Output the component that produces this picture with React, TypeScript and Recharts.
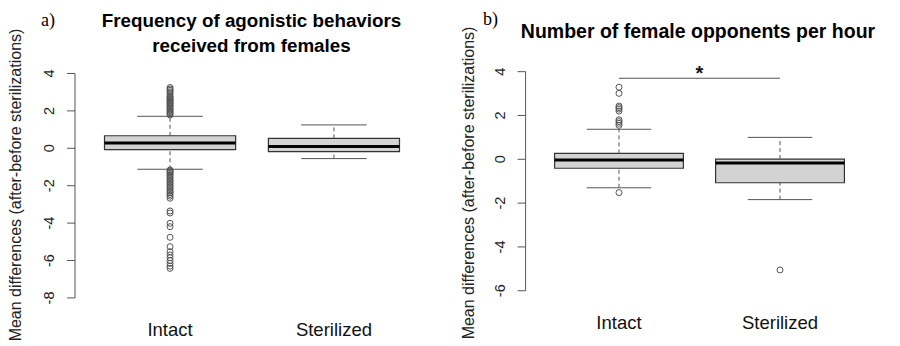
import {
  ComposedChart,
  XAxis,
  YAxis,
  Scatter,
  ReferenceArea,
  ReferenceLine,
} from 'recharts'

const categories = ['Intact', 'Sterilized']

// panel a) frequency of agonistic behaviors received from females
const aLow = [-1.12, -0.55]
const aQ1 = [-0.07, -0.18]
const aMedian = [0.28, 0.09]
const aQ3 = [0.67, 0.53]
const aHigh = [1.71, 1.25]
const aIntactOutliers = [
  3.25, 3.17, 3.1, 3.02, 2.93, 2.8, 2.74, 2.68, 2.62, 2.57, 2.52, 2.46, 2.41,
  2.35, 2.28, 2.22, 2.15, 2.09, 2.02, 1.96, 1.9, 1.84, 1.78,
  -1.16, -1.21, -1.27, -1.33, -1.4, -1.47, -1.55, -1.63, -1.72, -1.8, -1.88,
  -1.97, -2.05, -2.13, -2.22, -2.3, -2.38, -2.47, -2.56, -2.67,
  -3.35, -3.46, -4.01, -4.19, -4.76, -5.26, -5.53, -5.7, -5.85, -6.0, -6.15,
  -6.3, -6.42,
]
const aSterilizedOutliers: number[] = []
const aTicks = [-8, -6, -4, -2, 0, 2, 4]

// panel b) number of female opponents per hour
const bLow = [-1.3, -1.84]
const bQ1 = [-0.41, -1.07]
const bMedian = [-0.03, -0.17]
const bQ3 = [0.27, 0.01]
const bHigh = [1.37, 1.0]
const bIntactOutliers = [3.29, 3.01, 2.43, 2.36, 2.29, 2.2, 1.8, 1.72, 1.64, 1.55, -1.52]
const bSterilizedOutliers = [-5.05]
const bTicks = [-6, -4, -2, 0, 2, 4]
const bSignif = 3.7

const FONT = '"Liberation Sans", Arial, sans-serif'
const SERIF = '"Liberation Serif", "Times New Roman", serif'
const LINE = '#333'

function YTick({ x, y, payload }: any) {
  return (
    <text
      transform={`translate(${x - 16}, ${y}) rotate(-90)`}
      textAnchor="middle"
      dominantBaseline="central"
      fontFamily={FONT}
      fontSize={14.5}
      fill="#222"
    >
      {payload.value}
    </text>
  )
}

function XTick({ x, y, payload }: any) {
  return (
    <text x={x} y={y} dy={21} textAnchor="middle" fontFamily={FONT} fontSize={18.5} fill="#111">
      {categories[payload.value - 1]}
    </text>
  )
}

function Outlier({ cx, cy }: any) {
  return <circle cx={cx} cy={cy} r={3} fill="none" stroke="#555" strokeWidth={1} />
}

interface PanelProps {
  low: number[]
  q1: number[]
  median: number[]
  q3: number[]
  high: number[]
  outliers: number[][]
  ticks: number[]
  domain: [number, number]
  margin: { top: number; right: number; bottom: number; left: number }
  signif?: number
}

function BoxPanel({ low, q1, median, q3, high, outliers, ticks, domain, margin, signif }: PanelProps) {
  const points = outliers.flatMap((vals, i) => vals.map((v) => ({ x: i + 1, y: v })))
  return (
    <ComposedChart width={450} height={346} margin={margin}>
      <XAxis
        type="number"
        dataKey="x"
        domain={[0.42, 2.58]}
        ticks={[1, 2]}
        allowDataOverflow
        axisLine={false}
        tickLine={false}
        height={30}
        tick={<XTick />}
      />
      <YAxis
        type="number"
        dataKey="y"
        domain={domain}
        ticks={ticks}
        allowDataOverflow
        axisLine={false}
        tickLine={{ stroke: '#555' }}
        tickSize={8}
        width={30}
        tick={<YTick />}
      />
      <ReferenceLine
        segment={[{ x: 0.42, y: ticks[0] }, { x: 0.42, y: ticks[ticks.length - 1] }]}
        stroke="#555"
        ifOverflow="visible"
      />
      {categories.map((c, i) => {
        const x = i + 1
        return [
          <ReferenceLine
            key={c + 'wu'}
            segment={[{ x, y: q3[i] }, { x, y: high[i] }]}
            stroke="#555"
            strokeDasharray="4 3"
          />,
          <ReferenceLine
            key={c + 'wl'}
            segment={[{ x, y: low[i] }, { x, y: q1[i] }]}
            stroke="#555"
            strokeDasharray="4 3"
          />,
          <ReferenceLine
            key={c + 'cu'}
            segment={[{ x: x - 0.2, y: high[i] }, { x: x + 0.2, y: high[i] }]}
            stroke="#555"
          />,
          <ReferenceLine
            key={c + 'cl'}
            segment={[{ x: x - 0.2, y: low[i] }, { x: x + 0.2, y: low[i] }]}
            stroke="#555"
          />,
          <ReferenceArea
            key={c + 'box'}
            x1={x - 0.4}
            x2={x + 0.4}
            y1={q1[i]}
            y2={q3[i]}
            fill="#d3d3d3"
            fillOpacity={1}
            stroke={LINE}
            strokeWidth={1.2}
          />,
          <ReferenceLine
            key={c + 'med'}
            segment={[{ x: x - 0.4, y: median[i] }, { x: x + 0.4, y: median[i] }]}
            stroke="#000"
            strokeWidth={3}
          />,
        ]
      })}
      {signif !== undefined && (
        <ReferenceLine
          segment={[{ x: 1, y: signif }, { x: 2, y: signif }]}
          stroke="#555"
          label={{ value: '*', position: 'top', offset: -2, fontSize: 20, fontWeight: 'bold', fill: '#111', fontFamily: FONT }}
        />
      )}
      <Scatter data={points} shape={<Outlier />} isAnimationActive={false} />
    </ComposedChart>
  )
}

export default function App() {
  const yLabel = 'Mean differences (after-before sterilizations)'
  return (
    <div style={{ position: 'absolute', left: 0, top: 0, width: 900, height: 346, background: '#fff' }}>
      <div style={{ position: 'absolute', left: 0, top: 0 }}>
        <BoxPanel
          low={aLow}
          q1={aQ1}
          median={aMedian}
          q3={aQ3}
          high={aHigh}
          outliers={[aIntactOutliers, aSterilizedOutliers]}
          ticks={aTicks}
          domain={[-8.48, 4.48]}
          margin={{ top: 64.5, right: 21, bottom: 9.1, left: 45 }}
        />
      </div>
      <div style={{ position: 'absolute', left: 450, top: 0 }}>
        <BoxPanel
          low={bLow}
          q1={bQ1}
          median={bMedian}
          q3={bQ3}
          high={bHigh}
          outliers={[bIntactOutliers, bSterilizedOutliers]}
          ticks={bTicks}
          domain={[-6.4, 4.4]}
          margin={{ top: 62.9, right: 26.6, bottom: 16.5, left: 45.6 }}
          signif={bSignif}
        />
      </div>
      <svg
        width={900}
        height={346}
        style={{ position: 'absolute', left: 0, top: 0, pointerEvents: 'none' }}
      >
        <text x={41} y={26} fontFamily={SERIF} fontSize={18}>a)</text>
        <text x={251.5} y={26.7} textAnchor="middle" fontFamily={FONT} fontSize={18.8} fontWeight="bold">
          Frequency of agonistic behaviors
        </text>
        <text x={251.5} y={52.3} textAnchor="middle" fontFamily={FONT} fontSize={18.8} fontWeight="bold">
          received from females
        </text>
        <text x={483} y={25} fontFamily={SERIF} fontSize={18}>b)</text>
        <text x={698} y={38} textAnchor="middle" fontFamily={FONT} fontSize={19.5} fontWeight="bold">
          Number of female opponents per hour
        </text>
        <text
          transform="translate(15.5, 185) rotate(-90)"
          textAnchor="middle"
          dominantBaseline="central"
          fontFamily={FONT}
          fontSize={16}
          fill="#222"
        >
          {yLabel}
        </text>
        <text
          transform="translate(468.5, 183) rotate(-90)"
          textAnchor="middle"
          dominantBaseline="central"
          fontFamily={FONT}
          fontSize={16}
          fill="#222"
        >
          {yLabel}
        </text>
      </svg>
    </div>
  )
}
